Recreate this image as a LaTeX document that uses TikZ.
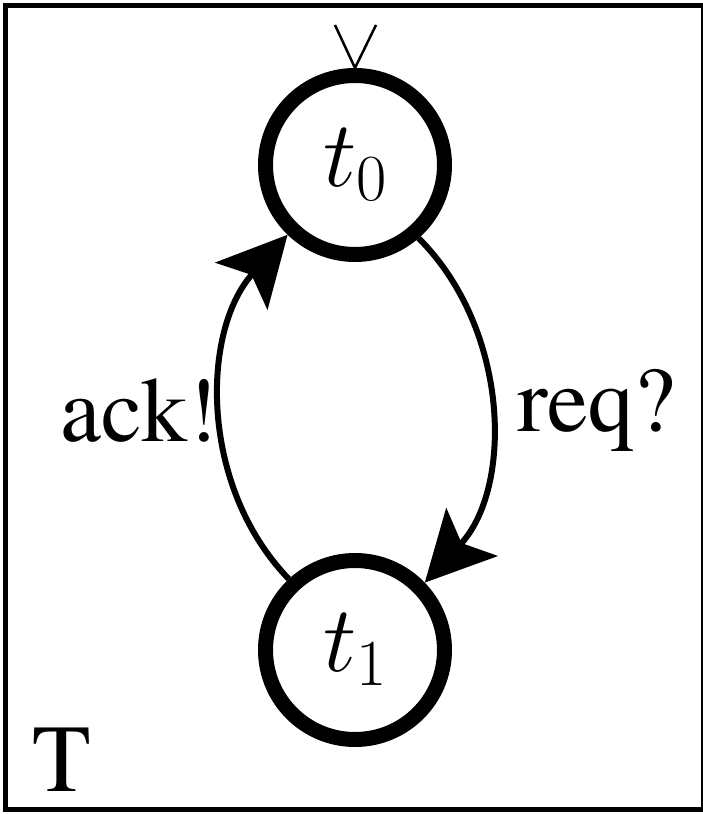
\RequirePackage{fix-cm}
\documentclass[tikz,border=0pt]{standalone}
\usepackage[T1]{fontenc}
\usepackage{times}
\usetikzlibrary{arrows.meta,calc}
\newcommand\lblfont{\rmfamily\fontsize{92}{100}\selectfont}
\begin{document}
\begin{tikzpicture}[x=1pt,y=1pt,
  state/.style={circle, draw, line width=15pt, minimum size=179pt, inner sep=0pt, font=\fontsize{94}{100}\selectfont},
  edge/.style={line width=6pt, -{Stealth[length=69pt, width=70pt, inset=15pt]}},
  lbl/.style={inner sep=0pt, anchor=base west, font=\lblfont}]
\useasboundingbox (0,0) rectangle (702,814);
\draw[line width=5pt] (5,4.5) rectangle (703,808.5);
\node[state] (t0) at (355,649) {$t_0$};
\node[state] (t1) at (355,164) {$t_1$};
\draw[line width=2.5pt, line join=miter] ($(t0.north)+(-20,43)$) -- (t0.north) -- ($(t0.north)+(21,43)$);
\draw[edge] (t1.133) to[out=134, in=228, looseness=0.96] (t0.226);
\draw[edge] (t0.311) to[out=-45, in=47, looseness=0.96] (t1.44);
\node[lbl] (ack) at (60,372) {ack!};
\node[lbl] (req) at (517,382) {req?};
\node[lbl, font=\rmfamily\fontsize{96}{100}\selectfont] (T) at (32,22) {T};
\end{tikzpicture}
\end{document}
